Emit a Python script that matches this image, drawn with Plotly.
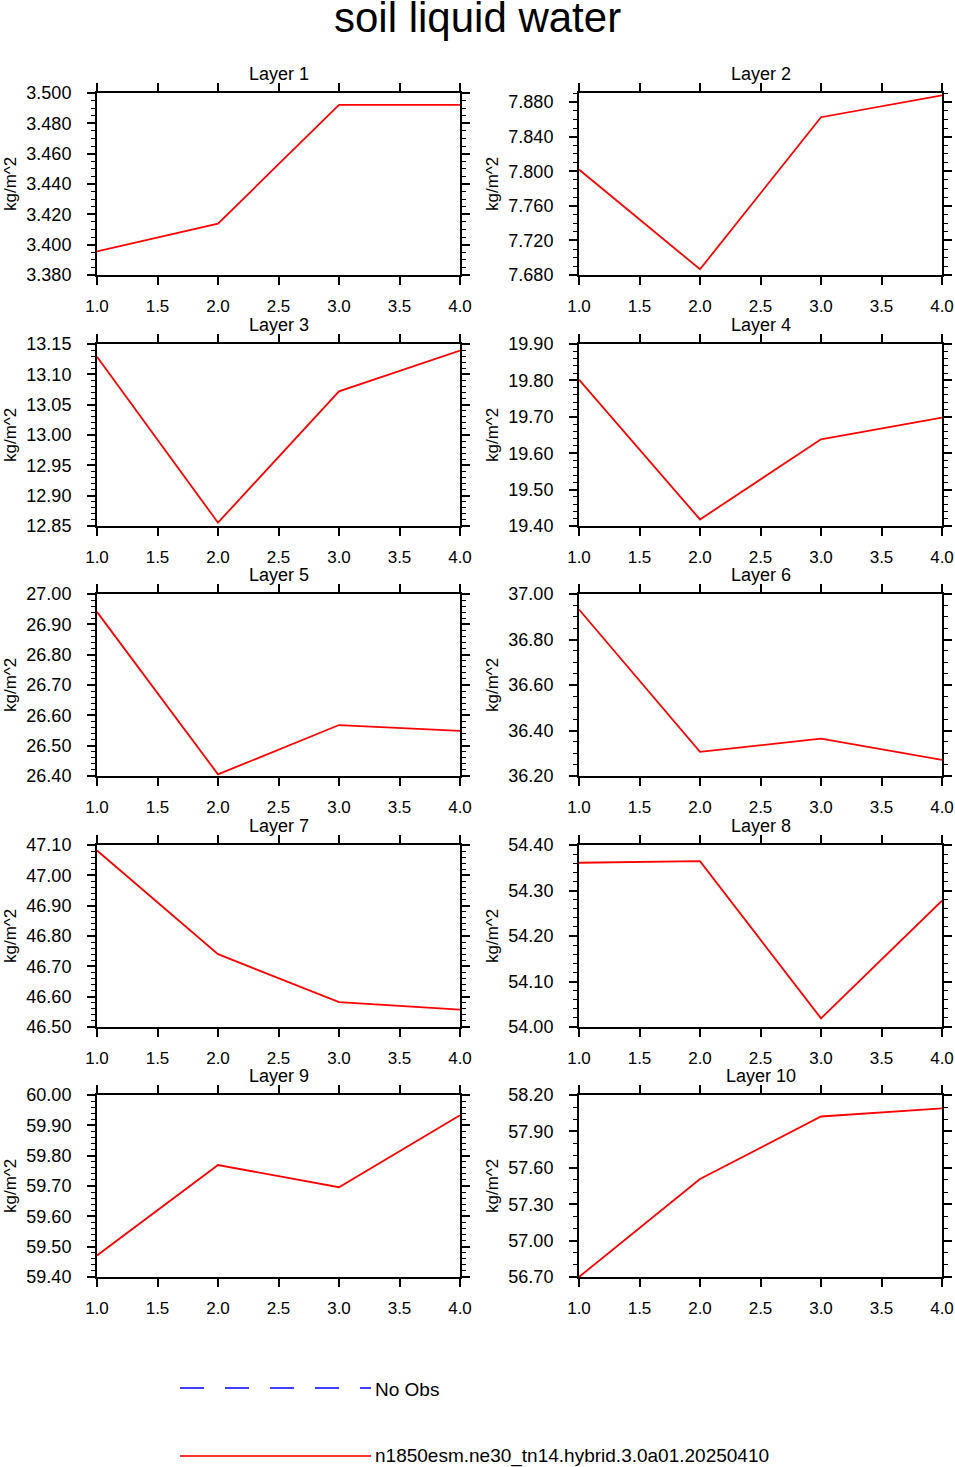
import plotly.graph_objects as go

W, H = 955, 1467

layers = ["Layer 1", "Layer 2", "Layer 3", "Layer 4", "Layer 5",
          "Layer 6", "Layer 7", "Layer 8", "Layer 9", "Layer 10"]
x_vals = [1.0, 2.0, 3.0, 4.0]
x_ticks = [1.0, 1.5, 2.0, 2.5, 3.0, 3.5, 4.0]

layer1 = [3.3956, 3.4138, 3.4922, 3.4922]
layer2 = [7.802, 7.6866, 7.8625, 7.8878]
layer3 = [13.129, 12.8555, 13.072, 13.139]
layer4 = [19.802, 19.418, 19.638, 19.698]
layer5 = [26.941, 26.4055, 26.568, 26.549]
layer6 = [36.932, 36.306, 36.364, 36.271]
layer7 = [47.082, 46.740, 46.582, 46.557]
layer8 = [54.361, 54.3646, 54.019, 54.2775]
layer9 = [59.471, 59.769, 59.696, 59.933]
layer10 = [56.700, 57.508, 58.023, 58.089]
series = [layer1, layer2, layer3, layer4, layer5,
          layer6, layer7, layer8, layer9, layer10]

# y axis setup per panel: (min, max, major step, minor step, format)
y_axes = [
    (3.38, 3.50, 0.02, 0.005, ".3f"),
    (7.68, 7.8905, 0.04, 0.01, ".3f"),
    (12.85, 13.15, 0.05, 0.01, ".2f"),
    (19.40, 19.90, 0.10, 0.02, ".2f"),
    (26.40, 27.00, 0.10, 0.02, ".2f"),
    (36.20, 37.00, 0.20, 0.05, ".2f"),
    (46.50, 47.10, 0.10, 0.02, ".2f"),
    (54.00, 54.40, 0.10, 0.02, ".2f"),
    (59.40, 60.00, 0.10, 0.02, ".2f"),
    (56.70, 58.20, 0.30, 0.10, ".2f"),
]

model_name = "n1850esm.ne30_tn14.hybrid.3.0a01.20250410"
font = "Liberation Sans, Arial, Helvetica, sans-serif"

# panel placement in pixels
col_px = [(97, 460), (579, 942)]
row_top = [93, 344, 594, 845, 1095]
panel_h = 182


def px_x(v):
    return v / W


def px_y(v):
    return 1 - v / H


fig = go.Figure()
annotations = []

for i, (name, yv) in enumerate(zip(layers, series)):
    r, c = divmod(i, 2)
    n = i + 1
    xa = "xaxis" if n == 1 else "xaxis%d" % n
    ya = "yaxis" if n == 1 else "yaxis%d" % n
    fig.add_trace(go.Scatter(
        x=x_vals, y=yv, mode="lines",
        line=dict(color="#ff0000", width=1.8),
        xaxis="x" if n == 1 else "x%d" % n,
        yaxis="y" if n == 1 else "y%d" % n,
        showlegend=False, hoverinfo="skip",
    ))
    x0, x1 = col_px[c]
    top = row_top[r]
    bot = top + panel_h
    ymin, ymax, step, mstep, fmt = y_axes[i]
    nt = int(round((ymax - ymin) / step + 1e-6))
    yt = [round(ymin + k * step, 6) for k in range(nt + 1)]
    yt = [t for t in yt if t <= ymax + 1e-9]
    fig.layout[xa] = dict(
        domain=[px_x(x0), px_x(x1)], range=[1, 4],
        anchor="y" if n == 1 else "y%d" % n,
        tickvals=x_ticks, tickformat=".1f",
        ticks="outside", ticklen=8, tickwidth=1.5, tickcolor="black",
        mirror="ticks", showline=True, linewidth=2, linecolor="black",
        showgrid=False, zeroline=False, ticklabelstandoff=7,
        automargin=False,
        tickfont=dict(family=font, size=17, color="black"),
    )
    fig.layout[ya] = dict(
        domain=[px_y(bot), px_y(top)], range=[ymin, ymax],
        anchor="x" if n == 1 else "x%d" % n,
        tickvals=yt, tickformat=fmt,
        ticks="outside", ticklen=8, tickwidth=1.5, tickcolor="black",
        minor=dict(dtick=mstep, tick0=ymin, ticks="outside", ticklen=4,
                   tickwidth=1, tickcolor="black", showgrid=False),
        mirror="ticks", showline=True, linewidth=2, linecolor="black",
        showgrid=False, zeroline=False, ticklabelstandoff=12,
        automargin=False,
        tickfont=dict(family=font, size=18, color="black"),
    )
    annotations.append(dict(
        text=name, x=px_x((x0 + x1) / 2), y=px_y(top - 19), xref="paper",
        yref="paper", showarrow=False, xanchor="center", yanchor="middle",
        font=dict(family=font, size=18, color="black"),
    ))
    annotations.append(dict(
        text="kg/m^2", x=px_x(x0 - 87), y=px_y((top + bot) / 2), xref="paper",
        yref="paper", showarrow=False, xanchor="center", yanchor="middle",
        textangle=-90, font=dict(family=font, size=17, color="black"),
    ))

annotations.append(dict(
    text="soil liquid water", x=px_x(477), y=px_y(17), xref="paper",
    yref="paper", showarrow=False, xanchor="center", yanchor="middle",
    font=dict(family=font, size=42, color="black"),
))
annotations.append(dict(
    text="No Obs", x=px_x(373), y=px_y(1389), xref="paper", yref="paper",
    showarrow=False, xanchor="left", yanchor="middle",
    font=dict(family=font, size=19, color="black"),
))
annotations.append(dict(
    text=model_name, x=px_x(373), y=px_y(1456), xref="paper", yref="paper",
    showarrow=False, xanchor="left", yanchor="middle",
    font=dict(family=font, size=19, color="black"),
))

shapes = [
    dict(type="line", xref="paper", yref="paper",
         x0=px_x(180), x1=px_x(371), y0=px_y(1388), y1=px_y(1388),
         line=dict(color="#0000ff", width=1.5, dash="24px,21px")),
    dict(type="line", xref="paper", yref="paper",
         x0=px_x(180), x1=px_x(371), y0=px_y(1456), y1=px_y(1456),
         line=dict(color="#ff3333", width=1.8)),
]

fig.update_layout(
    width=W, height=H,
    margin=dict(l=0, r=0, t=0, b=0, pad=0, autoexpand=False),
    paper_bgcolor="white", plot_bgcolor="white",
    annotations=annotations, shapes=shapes,
    font=dict(family=font, color="black"),
)

# drop the default page margin so the figure sits at the window corner
fig.write_html("out.html", config={"displayModeBar": False},
               post_script="document.body.style.margin='0';")
